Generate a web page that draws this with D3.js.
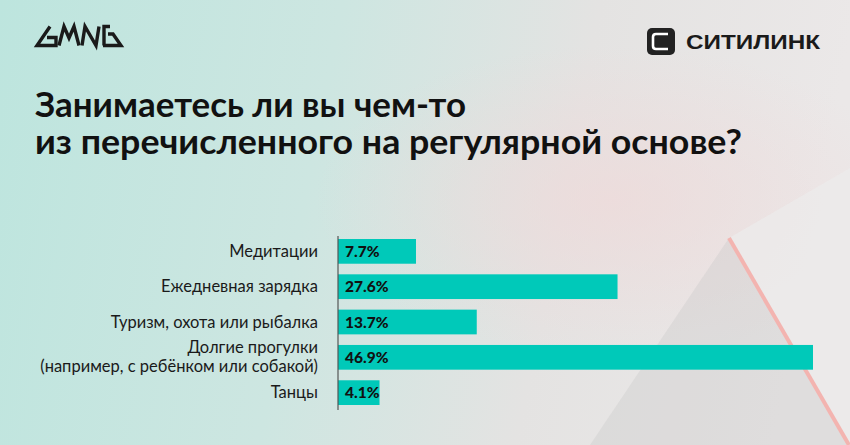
<!DOCTYPE html>
<html><head><meta charset="utf-8">
<script src="https://cdn.jsdelivr.net/npm/d3@7"></script>
<style>html,body{margin:0;padding:0;overflow:hidden;}svg{display:block;}</style>
</head><body>
<svg id="c" width="850" height="445"></svg>
<script>
const categories = ["Медитации","Ежедневная зарядка","Туризм, охота или рыбалка","Долгие прогулки\n(например, с ребёнком или собакой)","Танцы"];
const values = [7.7, 27.6, 13.7, 46.9, 4.1];
const valueLabels = ["7.7%","27.6%","13.7%","46.9%","4.1%"];
const titleLines = ["Занимаетесь ли вы чем-то","из перечисленного на регулярной основе?"];

const svg = d3.select("#c");
const W = 850, H = 445;
const defs = svg.append("defs");
const g1 = defs.append("linearGradient").attr("id","bg").attr("x1","0").attr("y1","0").attr("x2","1").attr("y2","0.1");
g1.append("stop").attr("offset","0").attr("stop-color","#bde5de");
g1.append("stop").attr("offset","0.4").attr("stop-color","#cde6e1");
g1.append("stop").attr("offset","0.7").attr("stop-color","#e4e3e2");
g1.append("stop").attr("offset","1").attr("stop-color","#ebe8e8");
svg.append("rect").attr("width",W).attr("height",H).attr("fill","url(#bg)");
const g2 = defs.append("radialGradient").attr("id","pk").attr("cx","0.72").attr("cy","0.45").attr("r","0.35");
g2.append("stop").attr("offset","0").attr("stop-color","#f0d8d8").attr("stop-opacity",0.65);
g2.append("stop").attr("offset","1").attr("stop-color","#f0d8d8").attr("stop-opacity",0);
svg.append("rect").attr("width",W).attr("height",H).attr("fill","url(#pk)");
// decorative planes
svg.append("path").attr("d","M729,238 L850,168 L850,445 Z").attr("fill","#ecebeb").attr("opacity",0.75);
svg.append("path").attr("d","M729,238 L590,445 L848,445 Z").attr("fill","#c4c4c4").attr("opacity",0.3);
svg.append("line").attr("x1",729).attr("y1",238).attr("x2",849).attr("y2",445).attr("stroke","#f3b4b0").attr("stroke-width",4);

// GMNG logo
const logo = svg.append("g").attr("fill","none").attr("stroke","#1a1a1a").attr("stroke-width",3.4).attr("stroke-linejoin","miter");
logo.append("path").attr("d","M50,26.5 L37,45.5 L56,45.5 L56,37.5 L47,37.5");
logo.append("path").attr("d","M59,45.5 L64,26.5 L69,38 L74,26.5 L79,45.5");
logo.append("path").attr("d","M82,45.5 L85,26.5 L96,45.5 L99,26.5");
logo.append("path").attr("d","M104,45.5 L104,26.5 L110,26.5 M103,45.5 L121,45.5 L113,34 L108,34");

svg.append("rect").attr("x",647).attr("y",28).attr("width",28).attr("height",27).attr("rx",5).attr("fill","#222");
svg.append("path").attr("d","M668,34 L656,34 Q653,34 653,37 L653,46 Q653,49 656,49 L668,49")
  .attr("fill","none").attr("stroke","#fff").attr("stroke-width",2.6);
svg.append("text").attr("x",686).attr("y",49).attr("font-family","Liberation Sans").attr("font-weight","bold")
  .attr("font-size",20).attr("textLength",134).attr("lengthAdjust","spacingAndGlyphs").attr("fill","#1a1a1a").text("СИТИЛИНК");

// title
const tLen = [431, 707];
svg.append("g").selectAll("text").data(titleLines).join("text")
  .attr("x",35).attr("y",(d,i)=>117+i*37).attr("font-family","Lato").attr("font-weight","bold")
  .attr("font-size",34).attr("textLength",(d,i)=>tLen[i]).attr("lengthAdjust","spacingAndGlyphs")
  .attr("fill","#111").text(d=>d);

// chart
const x0 = 338;
const x = d3.scaleLinear().domain([0,46.9]).range([x0,813]);
const y = d3.scaleBand().domain(d3.range(categories.length)).range([239,405]).paddingInner(0.3).paddingOuter(0);
svg.append("g").selectAll("rect").data(values).join("rect")
  .attr("x",x(0)).attr("y",(d,i)=>y(i)).attr("width",d=>x(d)-x(0)).attr("height",y.bandwidth()).attr("fill","#00c9b9");
svg.append("line").attr("x1",x0).attr("x2",x0).attr("y1",236).attr("y2",410).attr("stroke","#555").attr("stroke-width",1.2);
svg.append("g").selectAll("text").data(valueLabels).join("text")
  .attr("x",x0+7).attr("y",(d,i)=>y(i)+y.bandwidth()/2+5.5).attr("font-family","Lato").attr("font-weight","900")
  .attr("font-size",15.5).attr("fill","#111").text(d=>d);
const lab = svg.append("g").selectAll("text").data(categories).join("text")
  .attr("text-anchor","end").attr("font-family","Lato").attr("font-size",16.5).attr("fill","#1a1a1a")
  .attr("y",(d,i)=>y(i)+y.bandwidth()/2+5.5);
lab.each(function(d){
  const lines = d.split("\n"); const t = d3.select(this);
  lines.forEach((l,j)=>{ t.append("tspan").attr("x",318).attr("dy", j===0 ? (-(lines.length-1)*9.5)+"" : "19").text(l); });
});
</script>
</body></html>
